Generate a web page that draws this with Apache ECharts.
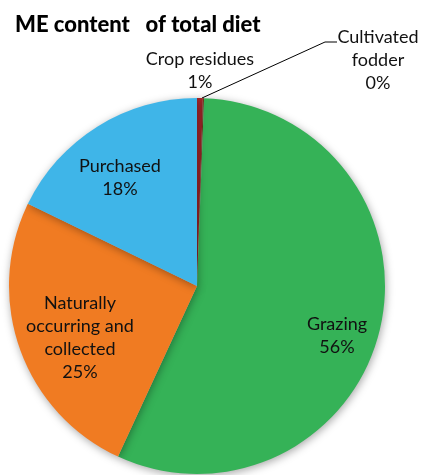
<!DOCTYPE html>
<html>
<head>
<meta charset="utf-8">
<script src="https://cdn.jsdelivr.net/npm/echarts@6/dist/echarts.min.js"></script>
<style>
  html, body { margin: 0; padding: 0; background: #ffffff; }
  #chart { width: 423px; height: 475px; }
</style>
</head>
<body>
<div id="chart"></div>
<script>
// Data (clockwise from 12 o'clock)
const categories = ['Crop residues', 'Cultivated\nfodder', 'Grazing', 'Naturally\noccurring and\ncollected', 'Purchased'];
const values = [0.5, 0.1, 56.3, 25.3, 17.8];
const colors = ['#a8282c', '#7a3b1f', '#35b257', '#f07b22', '#3fb5e8'];
const titleText = 'ME content   of total diet';

// label placement (label centres) – layout only
const labelPlace = [
  { x: 200, y: 71 },
  { x: 378, y: 60 },
  { x: 337, y: 336 },
  { x: 80,  y: 338 },
  { x: 120, y: 178 }
];
const cultivatedLeader = [[202, 98], [325, 42], [337, 42]];

const chart = echarts.init(document.getElementById('chart'), null, { renderer: 'canvas' });
const fontFamily = 'Lato, "DejaVu Sans", sans-serif';

const seriesData = categories.map((name, i) => {
  const outside = i <= 1;
  return {
    name: name,
    value: values[i],
    itemStyle: { color: colors[i] },
    label: { position: outside ? 'outside' : 'inside' },
    labelLine: { show: i === 1, lineStyle: { color: '#000', width: 1 } }
  };
});

chart.setOption({
  backgroundColor: '#ffffff',
  animation: false,
  title: {
    text: titleText,
    left: 10,
    top: 9,
    textStyle: { fontFamily: fontFamily, fontSize: 22, fontWeight: 900, color: '#000' }
  },
  series: [{
    type: 'pie',
    center: [197, 286],
    radius: [0, 188],
    startAngle: 90,
    clockwise: true,
    avoidLabelOverlap: false,
    percentPrecision: 0,
    itemStyle: {
      borderWidth: 0,
      shadowBlur: 8,
      shadowColor: 'rgba(0,0,0,0.35)',
      shadowOffsetX: 1,
      shadowOffsetY: 2
    },
    label: {
      show: true,
      formatter: '{b}\n{d}%',
      fontFamily: fontFamily,
      fontSize: 18,
      lineHeight: 23,
      color: '#111',
      align: 'center'
    },
    labelLine: { show: false, length: 10, length2: 10 },
    labelLayout: function (params) {
      const p = labelPlace[params.dataIndex];
      const out = { x: p.x, y: p.y, align: 'center', verticalAlign: 'middle' };
      if (params.dataIndex === 1) out.labelLinePoints = cultivatedLeader;
      return out;
    },
    data: seriesData
  }]
});
</script>
</body>
</html>
